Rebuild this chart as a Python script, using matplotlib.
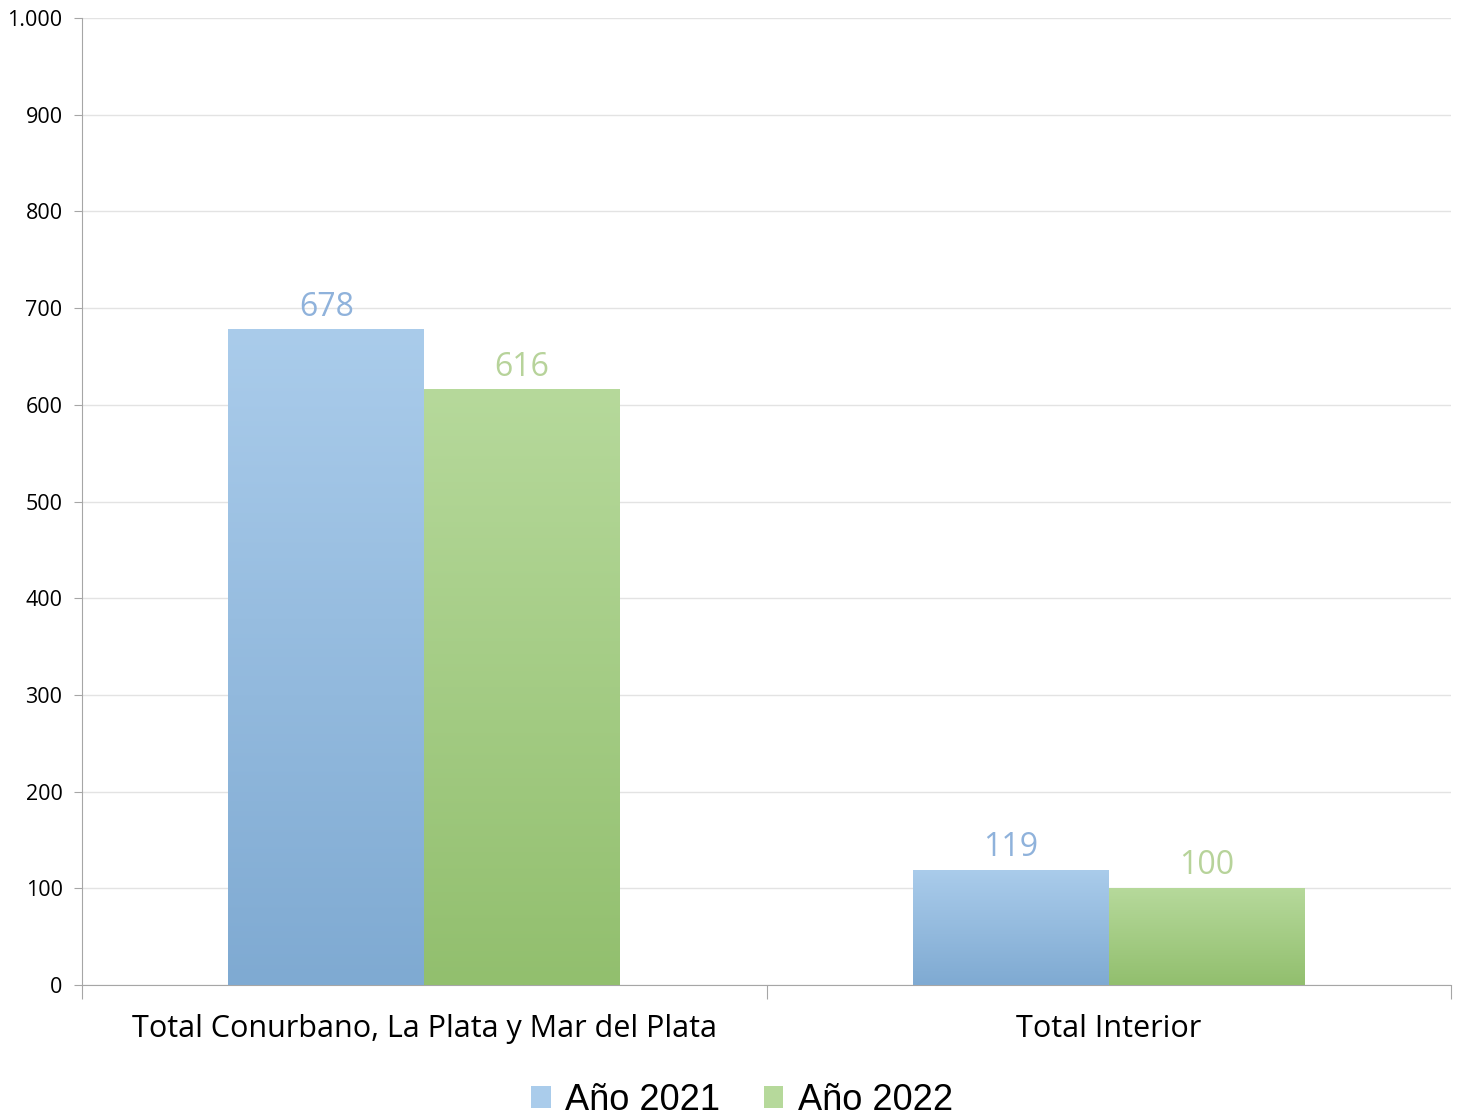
import numpy as np
import matplotlib
matplotlib.use("Agg")
import matplotlib.pyplot as plt
from matplotlib.colors import LinearSegmentedColormap
from matplotlib.patches import Patch

# Datos
categorias = ["Total Conurbano, La Plata y Mar del Plata", "Total Interior"]
series = ["Año 2021", "Año 2022"]
valores_2021 = [678, 119]
valores_2022 = [616, 100]
yticks = [0, 100, 200, 300, 400, 500, 600, 700, 800, 900, 1000]
ytick_labels = ["0", "100", "200", "300", "400", "500", "600", "700", "800", "900", "1.000"]

# Colores (arriba claro, abajo oscuro)
azul = ("#AACCEB", "#7FAAD2")
verde = ("#B6D99B", "#92BF6E")
color_etiqueta = ["#8FB2DB", "#B7D39A"]

fig = plt.figure(figsize=(14.59, 11.17), dpi=100)
ax = fig.add_axes([82 / 1459, 1 - 985 / 1117, 1369 / 1459, 967 / 1117])

x = np.arange(len(categorias))
ancho = 0.286
grad = np.linspace(0, 1, 256).reshape(-1, 1)

for i, (vals, cols) in enumerate([(valores_2021, azul), (valores_2022, verde)]):
    offs = (i - 0.5) * ancho
    barras = ax.bar(x + offs, vals, ancho, color=cols[0], linewidth=0, zorder=2)
    cmap = LinearSegmentedColormap.from_list("g%d" % i, [cols[1], cols[0]])
    for b in barras:
        x0, y0 = b.get_x(), b.get_y()
        im = ax.imshow(grad, cmap=cmap, aspect="auto", origin="lower",
                       extent=[x0, x0 + b.get_width(), y0, y0 + b.get_height()],
                       zorder=3)
        im.set_clip_path(b)
    for xi, v in zip(x + offs, vals):
        ax.text(xi, v + 6, str(v), ha="center", va="bottom", fontsize=23,
                color=color_etiqueta[i], family="Open Sans", zorder=4)

ax.set_xlim(-0.5, 1.5)
ax.set_ylim(0, 1000)
ax.set_yticks(yticks)
ax.set_yticklabels(ytick_labels, family="Open Sans", fontsize=15.5)
ax.yaxis.grid(True, color="#E3E3E3", linewidth=1)
ax.set_axisbelow(True)

# ticks del eje x en los bordes de las categorias
ax.set_xticks([-0.5, 0.5, 1.5])
ax.set_xticklabels([])
ax.set_xticks(x, minor=True)
ax.set_xticklabels(categorias, minor=True, family="Open Sans", fontsize=22)
ax.tick_params(axis="x", which="major", length=10, color="#A6A6A6")
ax.tick_params(axis="x", which="minor", length=0, pad=21)
ax.tick_params(axis="y", length=6, color="#A6A6A6", pad=8)

for s in ["top", "right"]:
    ax.spines[s].set_visible(False)
for s in ["left", "bottom"]:
    ax.spines[s].set_color("#A6A6A6")

manijas = [Patch(facecolor=azul[0], edgecolor="none"),
           Patch(facecolor=verde[0], edgecolor="none")]
fig.legend(manijas, series, loc="center", bbox_to_anchor=(742 / 1459, 1 - 1100 / 1117),
           ncol=2, frameon=False, prop={"family": "Liberation Sans", "size": 26},
           handlelength=0.55, handleheight=0.55, handletextpad=0.4, columnspacing=1.2)

fig.savefig("out.png", dpi=100)
